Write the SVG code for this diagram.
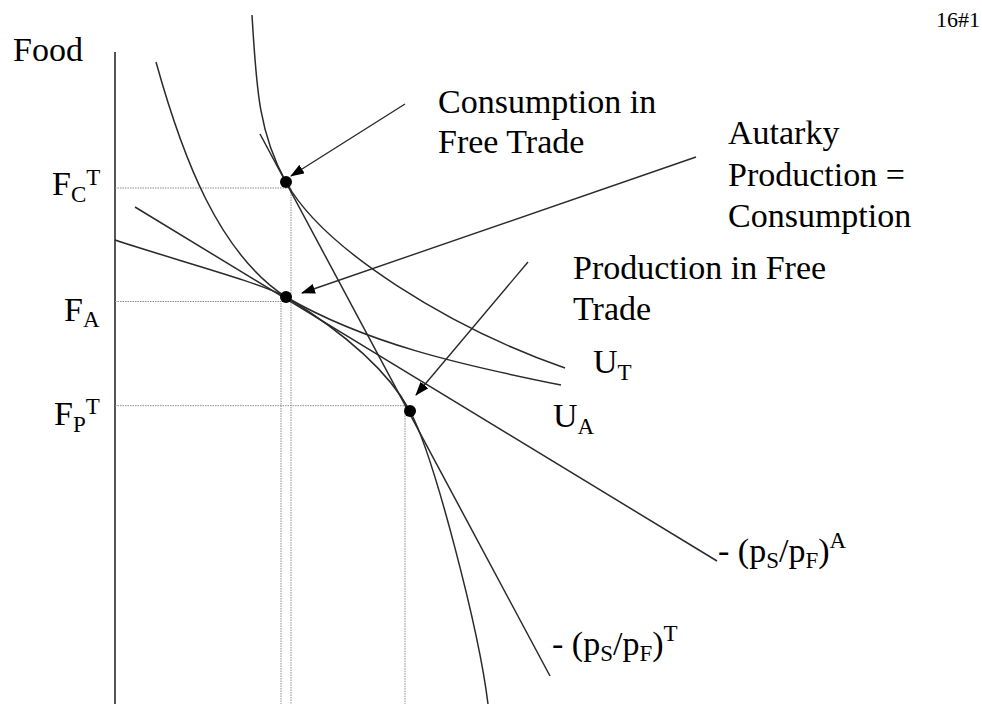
<svg xmlns="http://www.w3.org/2000/svg" width="982" height="704" viewBox="0 0 982 704">
<style>
  text { font-family: "Liberation Serif", "Times New Roman", serif; fill: #000; }
  .big { font-size: 34px; }
  .sm { font-size: 23px; }
  .curve { fill: none; stroke: #2a2a2a; stroke-width: 1.5; }
  .guide { fill: none; stroke: #8a8a8a; stroke-width: 1; stroke-dasharray: 1.5 1; }
  .arrow { fill: none; stroke: #2a2a2a; stroke-width: 1.4; marker-end: url(#head); }
  .dot { fill: #000; }
</style>
<defs>
  <marker id="head" markerUnits="userSpaceOnUse" viewBox="0 0 14 10" refX="13" refY="5" markerWidth="14" markerHeight="10" orient="auto">
    <path d="M0,0 L14,5 L0,10 z" fill="#000"/>
  </marker>
</defs>
<rect width="982" height="704" fill="#fff"/>

<text x="980" y="27" font-size="22" text-anchor="end">16#1</text>

<g id="axis">
  <line x1="115" y1="52" x2="115" y2="704" stroke="#2a2a2a" stroke-width="1.6"/>
  <text class="big" x="13" y="61">Food</text>
</g>

<g id="guides">
  <path class="guide" d="M115,188 H291 V704"/>
  <path class="guide" d="M115,301.5 H281 V704"/>
  <path class="guide" d="M115,405.7 H405 V704"/>
</g>

<g id="ppf">
  <path class="curve" d="M115,240 C175,260 262,283 286,297 Q379,354 410,411 C434,456 479,630 488,704"/>
</g>

<g id="indiff-UA">
  <path class="curve" d="M156,62 C182.8,158.3 219,253.4 286,297 C366,343.4 461,365 561,385"/>
  <text class="big" x="553" y="427">U<tspan class="sm" dy="7">A</tspan></text>
</g>

<g id="indiff-UT">
  <path class="curve" d="M252,15 C256.3,84.9 258,131.6 286,182 C324,250.4 451.7,328.4 565,368"/>
  <text class="big" x="593" y="373">U<tspan class="sm" dy="7">T</tspan></text>
</g>

<g id="price-autarky">
  <line class="curve" x1="135" y1="207" x2="717" y2="561"/>
  <text class="big" x="718" y="562">- (p<tspan class="sm" dy="6">S</tspan><tspan dy="-6">/p</tspan><tspan class="sm" dy="6">F</tspan><tspan dy="-6">)</tspan><tspan class="sm" dy="-14">A</tspan></text>
</g>

<g id="price-trade">
  <line class="curve" x1="260" y1="134" x2="550" y2="676"/>
  <text class="big" x="552" y="655">- (p<tspan class="sm" dy="6">S</tspan><tspan dy="-6">/p</tspan><tspan class="sm" dy="6">F</tspan><tspan dy="-6">)</tspan><tspan class="sm" dy="-14">T</tspan></text>
</g>

<g id="axis-labels">
  <text class="big" x="52" y="195">F<tspan class="sm" dy="7">C</tspan><tspan class="sm" dy="-17">T</tspan></text>
  <text class="big" x="64" y="321">F<tspan class="sm" dy="6">A</tspan></text>
  <text class="big" x="54" y="425">F<tspan class="sm" dy="7">P</tspan><tspan class="sm" dy="-18">T</tspan></text>
</g>

<g id="point-consumption-trade">
  <circle class="dot" cx="286" cy="182" r="6"/>
  <text class="big" x="438" y="113">Consumption in</text>
  <text class="big" x="438" y="153">Free Trade</text>
</g>

<g id="point-autarky">
  <circle class="dot" cx="286" cy="297" r="6"/>
  <text class="big" x="728" y="144">Autarky</text>
  <text class="big" x="728" y="186">Production =</text>
  <text class="big" x="728" y="227">Consumption</text>
</g>

<g id="point-production-trade">
  <circle class="dot" cx="410" cy="411" r="6"/>
  <text class="big" x="573" y="279">Production in Free</text>
  <text class="big" x="573" y="320">Trade</text>
</g>

<g id="connectors">
  <line class="arrow" x1="405" y1="104" x2="291" y2="176"/>
  <line class="arrow" x1="696" y1="157" x2="302" y2="293"/>
  <line class="arrow" x1="528" y1="262" x2="416" y2="395"/>
</g>
</svg>
